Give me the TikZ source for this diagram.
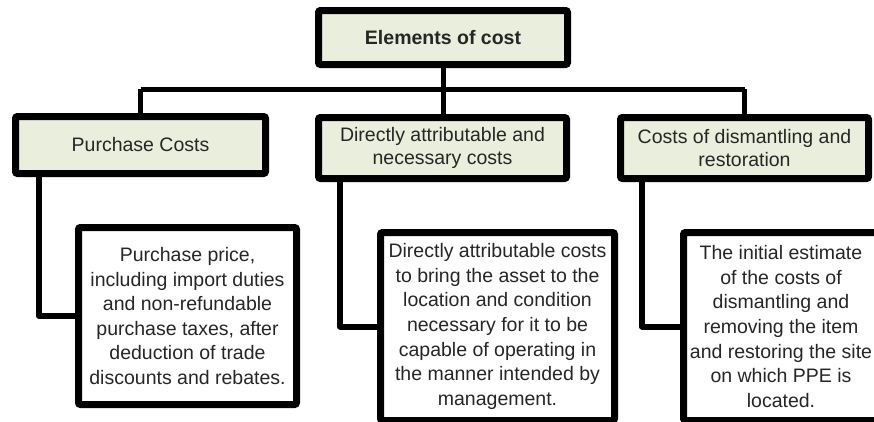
\documentclass[tikz,border=0pt]{standalone}
\usepackage{fontspec}
\setmainfont{Liberation Sans}
\usetikzlibrary{positioning}
\usetikzlibrary{shadows}
\definecolor{headfill}{HTML}{EAEEDC}

\begin{document}
\begin{tikzpicture}[x=1pt,y=-1pt]
  \tikzset{headbox/.style = {draw, line width=7pt, fill=headfill, rounded corners=2pt,
      align=center, text=black!85, inner sep=0pt,
      drop shadow={opacity=0.25, shadow xshift=2pt, shadow yshift=-2pt},
      font=\fontsize{19.5}{23}\selectfont}}
  \tikzset{notebox/.style = {draw, line width=7pt, fill=white, rounded corners=2pt,
      align=center, text=black!85, inner sep=0pt,
      drop shadow={opacity=0.25, shadow xshift=2pt, shadow yshift=-2pt},
      font=\fontsize{19.5}{24.6}\selectfont}}
  \tikzset{tree/.style = {draw, line width=5pt}}
  \tikzset{elbow/.style = {draw, line width=6pt, line join=round}}

  \useasboundingbox (0,0) rectangle (874,421);
  \clip (0,0) rectangle (874,421);

  \coordinate (bus) at (443,89);

  %%%%%%%%%%%%

  \node[headbox, minimum width=249pt, minimum height=54pt,
  font=\bfseries\fontsize{19.5}{23}\selectfont] (title) at (443,37.5) {Elements of cost};

  \node[headbox, minimum width=250pt, minimum height=57pt] (purchase) at (140.5,145)
  {Purchase Costs};
  \node[headbox, minimum width=248pt, minimum height=61pt] (direct) at (442.5,148)
  {Directly attributable and\\necessary costs};
  \node[headbox, minimum width=248pt, minimum height=61pt] (dismantle) at (744.5,148)
  {Costs of dismantling and\\restoration};

  \path[tree] (title.south) -- (title.south |- direct.north);
  \path[tree] (purchase.north |- bus) -- (dismantle.north |- bus);
  \path[tree] (purchase.north) -- (purchase.north |- bus);
  \path[tree] (dismantle.north) -- (dismantle.north |- bus);

  %%%%%%%%%%%

  \node[notebox, minimum width=218pt, minimum height=177pt] (price) at (187.5,316)
  {Purchase price,\\including import duties\\and non-refundable\\purchase taxes, after\\
    deduction of trade\\discounts and rebates.};

  \path[elbow] ([xshift=27pt]purchase.south west) |- (price.west);

  %%%%%%%%%%%

  \node[notebox, minimum width=234pt, minimum height=188pt] (bring) at (497.5,326.5)
  {Directly attributable costs\\to bring the asset to the\\location and condition\\
    necessary for it to be\\capable of operating in\\the manner intended by\\management.};

  \path[elbow] ([xshift=25pt]direct.south west) |- (bring.west);

  %%%%%%%%%%%

  \node[notebox, minimum width=195pt, minimum height=188pt] (estimate) at (781,326.5)
  {The initial estimate\\of the costs of\\dismantling and\\removing the item\\
    and restoring the site\\on which PPE is\\located.};

  \path[elbow] ([xshift=25pt]dismantle.south west) |- (estimate.west);

\end{tikzpicture}
\end{document}
